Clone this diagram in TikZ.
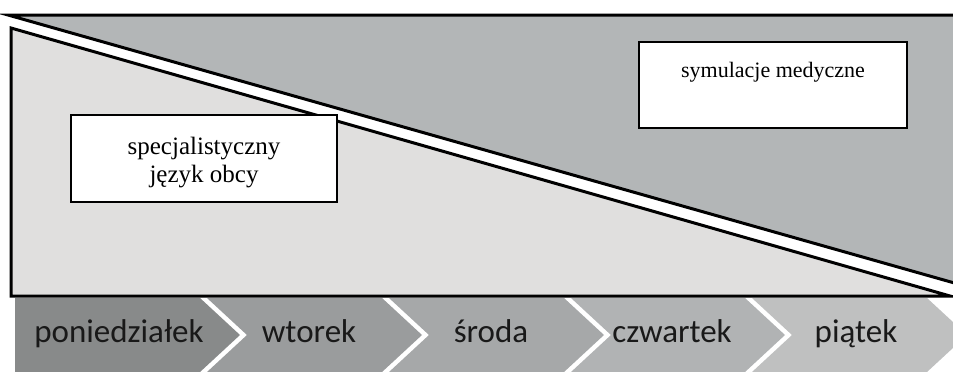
\documentclass[tikz,border=0pt]{standalone}
\usepackage{fontspec}
\setmainfont{Liberation Serif}
\newfontfamily\daysfont{Carlito}
\definecolor{upperfill}{HTML}{B3B6B7}
\definecolor{lowerfill}{HTML}{E0DFDE}
\definecolor{dayA}{HTML}{888A8A}
\definecolor{dayB}{HTML}{9A9C9D}
\definecolor{dayC}{HTML}{A6A8A9}
\definecolor{dayD}{HTML}{B1B3B4}
\definecolor{dayE}{HTML}{BFC0C0}
\tikzset{
  wedge/.style={draw=black, line width=3pt, line join=miter},
  topicbox/.style={draw=black, fill=white, line width=1.6pt},
  topictext/.style={align=center, inner sep=0pt},
  daytext/.style={font=\daysfont\fontsize{33}{40}\selectfont, inner sep=0pt, anchor=base, text=black!90}
}
\begin{document}
\begin{tikzpicture}[x=1pt,y=-1pt]
\useasboundingbox (0,0) rectangle (953,372);
\begin{scope}
\clip (0,0) rectangle (953,372);
% upper wedge (dark)
\path[wedge, fill=upperfill] (8,15) -- (965,15) -- (965,286) -- cycle;
% lower wedge (light)
\path[wedge, fill=lowerfill] (11,28) -- (11,296) -- (950,296) -- cycle;
% day chevrons
\fill[dayA] (15,298) -- (200,298) -- (240,335) -- (200,372) -- (15,372) -- cycle;
\fill[dayB] (207,298) -- (382,298) -- (422,335) -- (382,372) -- (207,372) -- (247,335) -- cycle;
\fill[dayC] (389,298) -- (564,298) -- (604,335) -- (564,372) -- (389,372) -- (429,335) -- cycle;
\fill[dayD] (571,298) -- (745,298) -- (785,335) -- (745,372) -- (571,372) -- (611,335) -- cycle;
\fill[dayE] (752,298) -- (927,298) -- (967,335) -- (927,372) -- (752,372) -- (792,335) -- cycle;
\end{scope}
% topic boxes
\node[topicbox, minimum width=268pt, minimum height=86pt] (sym) at (773,85) {};
\node[topictext, anchor=base, font=\fontsize{22}{26}\selectfont] (symt) at (773,77) {symulacje medyczne};
\node[topicbox, minimum width=266pt, minimum height=87pt] (spec) at (204,158.5) {};
\node[topictext, font=\fontsize{25}{28}\selectfont] (spect) at (204,163) {specjalistyczny\\język obcy};
% day labels
\node[daytext] (pon) at (119,342) {poniedziałek};
\node[daytext] (wt) at (309,342) {wtorek};
\node[daytext] (sr) at (491,342) {środa};
\node[daytext] (czw) at (672,342) {czwartek};
\node[daytext] (pt) at (856,342) {piątek};
\end{tikzpicture}
\end{document}
